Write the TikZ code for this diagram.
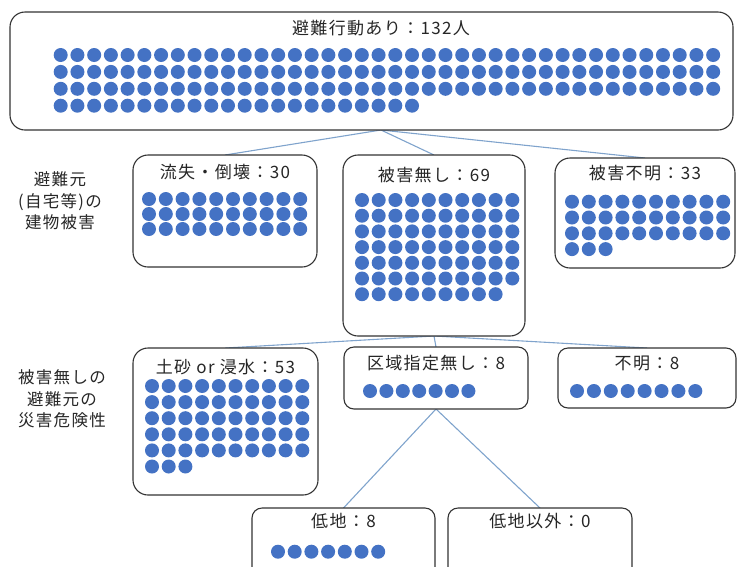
\documentclass[tikz,border=0pt]{standalone}
\usepackage{fontspec}
\usepackage{tikz}
\usepackage{xcolor}
\setmainfont[LetterSpace=8]{Noto Sans CJK JP}

\definecolor{dotblue}{HTML}{4472C4}
\definecolor{linkblue}{HTML}{7FA3CC}
\definecolor{textgray}{HTML}{262626}

% rows of dots: x0, y0, dx, dy, dots per row, number of dots
\newcommand{\peopledots}[6]{%
  \foreach \i in {1,...,#6}{%
    \pgfmathtruncatemacro{\dc}{mod(\i-1,#5)}%
    \pgfmathtruncatemacro{\dr}{div(\i-1,#5)}%
    \fill[dotblue] ({#1+\dc*#3},{#2+\dr*#4}) circle (7pt);
  }}

\begin{document}
\begin{tikzpicture}[x=1pt, y=-1pt,
    box/.style={draw=black!80, line width=1.1pt, fill=white, rounded corners=15pt, inner sep=0pt},
    lowbox/.style={box, rounded corners=10pt},
    lbl/.style={text=textgray, font=\fontsize{17}{20}\selectfont, inner sep=0pt},
    side/.style={lbl, align=center, font=\fontsize{16.5}{21.5}\selectfont},
    link/.style={draw=linkblue, line width=1.1pt}]
    \useasboundingbox (0,0) rectangle (739,566);
    \clip (0,0) rectangle (739,566);

    % Draw the connectors
    \coordinate (split) at (381,130);
    \coordinate (nodmg) at (434,336);
    \coordinate (nozone) at (436,409);
    \coordinate (collapse) at (225,155);
    \coordinate (nodmgtop) at (434,155);
    \coordinate (unknown) at (645,158);
    \coordinate (hazard) at (225.5,348);
    \coordinate (zone) at (436,347);
    \coordinate (unknown2) at (647,348);
    \coordinate (lowland) at (343.5,508);
    \coordinate (notlow) at (540,508);

    \draw[link] (split) -- (collapse);
    \draw[link] (split) -- (nodmgtop);
    \draw[link] (split) -- (unknown);
    \draw[link] (nodmg) -- (hazard);
    \draw[link] (nodmg) -- (zone);
    \draw[link] (nodmg) -- (unknown2);
    \draw[link] (nozone) -- (lowland);
    \draw[link] (nozone) -- (notlow);

    % Draw the boxes
    \node[box, minimum width=723pt, minimum height=118pt] (top) at (371.5,71) {};
    \node[box, minimum width=184pt, minimum height=112pt] (b1) at (225,211) {};
    \node[box, minimum width=182pt, minimum height=181pt] (b2) at (434,245.5) {};
    \node[box, minimum width=180pt, minimum height=110pt] (b3) at (645,213) {};
    \node[box, minimum width=185pt, minimum height=147pt] (c1) at (225.5,421.5) {};
    \node[lowbox, minimum width=184pt, minimum height=62pt] (c2) at (436,378) {};
    \node[lowbox, minimum width=178pt, minimum height=60pt] (c3) at (647,378) {};
    \node[lowbox, minimum width=183pt, minimum height=80pt] (d1) at (343.5,548) {};
    \node[lowbox, minimum width=184pt, minimum height=80pt] (d2) at (540,548) {};

    % Titles
    \node[lbl] (topT) at (381,28) {避難行動あり：132人};
    \node[lbl] (b1T) at (225,172) {流失・倒壊：30};
    \node[lbl] (b2T) at (434,175) {被害無し：69};
    \node[lbl] (b3T) at (645,173) {被害不明：33};
    \node[lbl] (c1T) at (225.5,367) {土砂 or 浸水：53};
    \node[lbl] (c2T) at (436,363) {区域指定無し：8};
    \node[lbl] (c3T) at (647,363) {不明：8};
    \node[lbl] (d1T) at (343.5,521) {低地：8};
    \node[lbl] (d2T) at (540,521) {低地以外：0};

    \node[side] (row1) at (60,201) {避難元\\(自宅等)の\\建物被害};
    \node[side] (row2) at (62,399) {被害無しの\\避難元の\\災害危険性};

    % Draw the dots
    \peopledots{60.7}{55}{16.73}{16.9}{40}{142}
    \peopledots{149}{199}{16.8}{15}{10}{30}
    \peopledots{362}{200}{16.7}{15.7}{10}{69}
    \peopledots{572}{201.7}{16.8}{15.8}{10}{33}
    \peopledots{152}{386}{16.7}{16.1}{10}{53}
    \peopledots{370}{391}{16.4}{0}{10}{7}
    \peopledots{577}{391}{16.9}{0}{10}{8}
    \peopledots{278}{551.7}{16.7}{0}{10}{7}
\end{tikzpicture}
\end{document}
